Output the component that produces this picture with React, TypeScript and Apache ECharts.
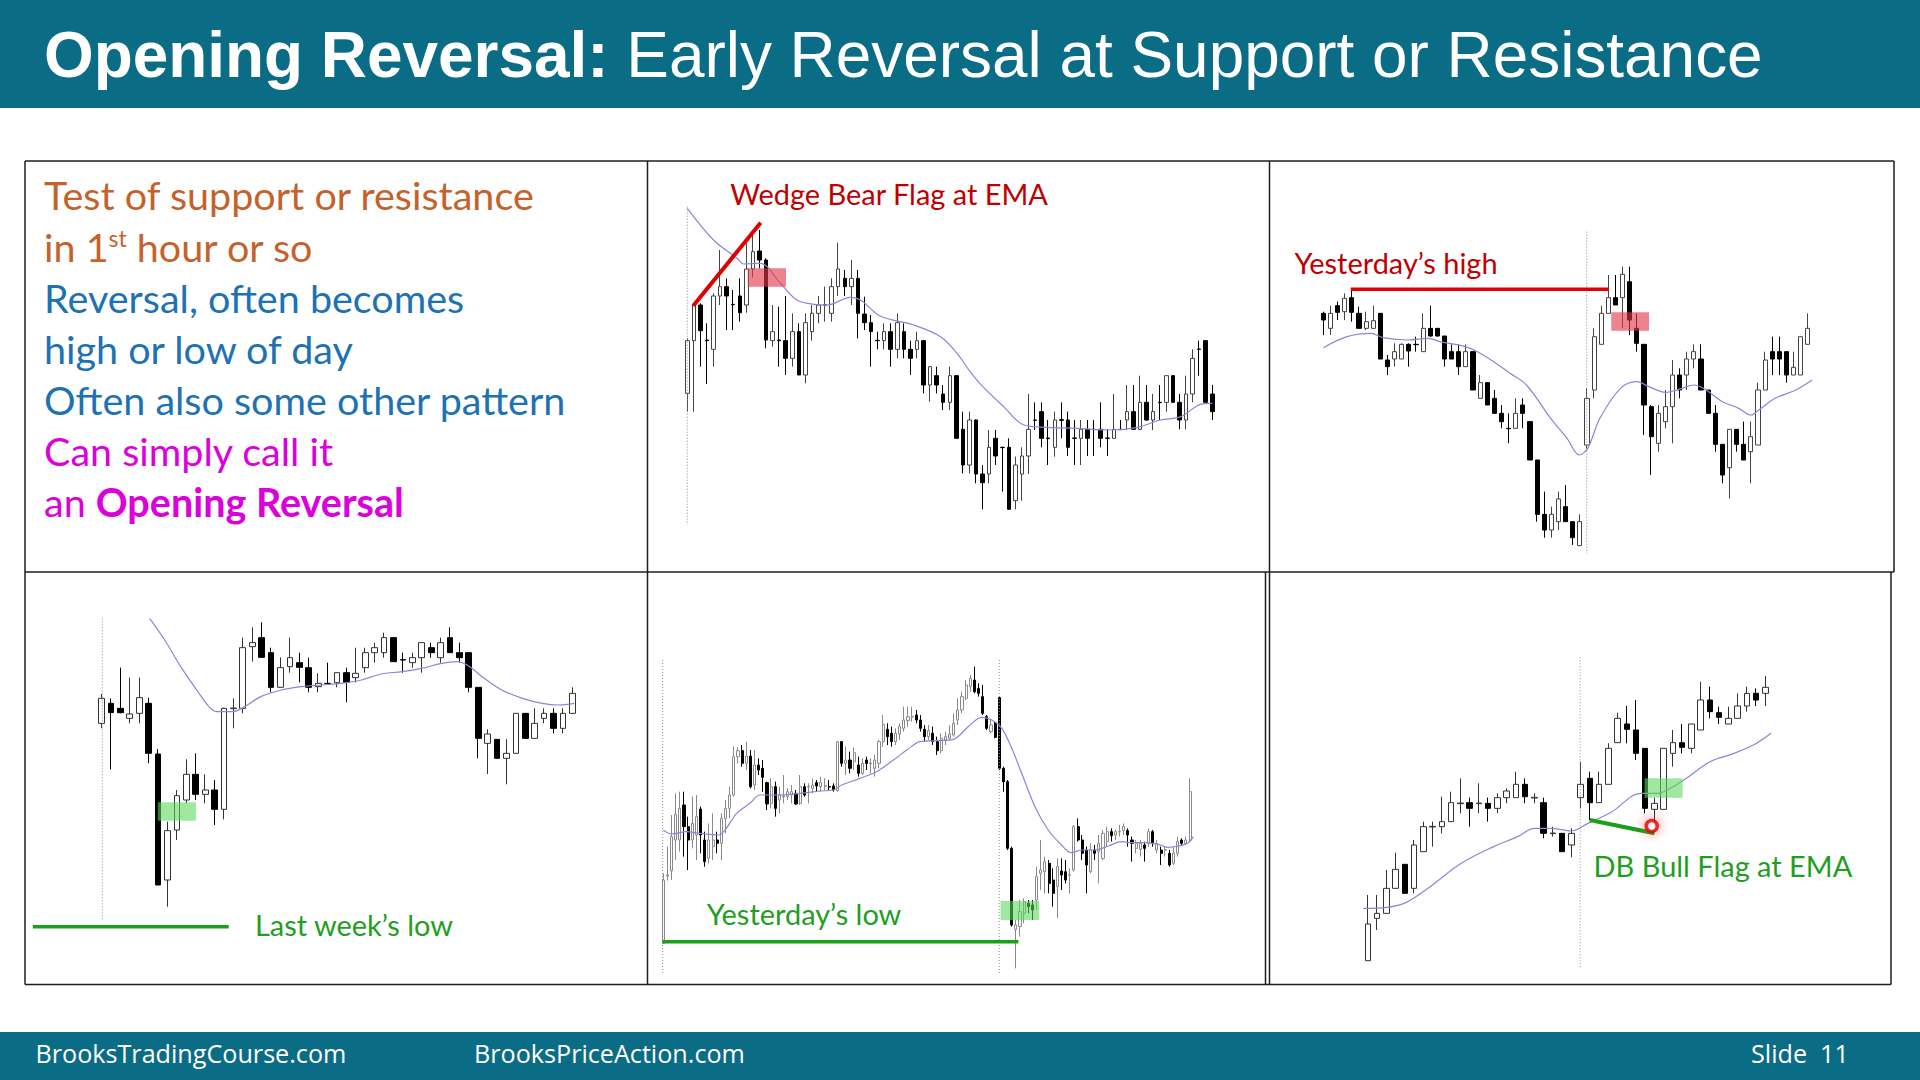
import React, { useEffect, useRef } from "react";
import * as echarts from "echarts";

// ================= DATA =================
// Candles: [barIndex, open, close, low, high]  (price units)

// Panel 1 — "Wedge Bear Flag at EMA"
const wedgeCandles: number[][] = [
  [0,390,548,335,555],[1,548,655,335,660],[2,655,578,470,660],[3,550,548,418,600],[4,522,682,470,690],
  [5,682,710,655,820],[6,710,682,580,735],[7,657,656,580,700],[8,682,632,605,735],[9,655,763,632,840],
  [10,763,815,738,870],[11,817,790,765,880],[12,790,550,525,795],[13,548,575,530,655],[14,550,548,470,650],
  [15,548,495,445,682],[16,495,575,470,630],[17,575,445,445,600],[18,445,602,420,630],[19,575,630,548,655],
  [20,630,655,600,682],[21,654,656,605,710],[22,630,710,605,735],[23,710,763,682,842],[24,735,710,682,760],
  [25,710,735,655,790],[26,735,630,555,760],[27,628,602,580,680],[28,602,575,470,625],[29,549,548,522,575],
  [30,548,575,522,600],[31,575,522,470,600],[32,522,602,495,630],[33,575,522,495,600],[34,522,495,445,548],
  [35,522,548,495,575],[36,548,415,390,550],[37,415,470,365,472],[38,443,415,390,470],[39,388,363,340,415],
  [40,363,443,340,470],[41,443,255,255,445],[42,282,175,150,335],[43,175,310,150,335],[44,310,148,120,312],
  [45,148,122,42,175],[46,148,228,120,280],[47,255,202,175,280],[48,228,227,95,230],[49,228,42,42,255],
  [50,68,175,42,200],[51,148,202,68,228],[52,202,282,148,388],[53,310,309,280,363],[54,335,255,228,363],
  [55,256,254,175,310],[56,228,310,200,335],[57,311,309,255,363],[58,310,228,202,335],[59,256,255,175,310],
  [60,255,282,175,310],[61,282,255,202,310],[62,282,281,202,310],[63,282,255,228,363],[64,256,255,202,282],
  [65,255,282,255,388],[66,282,281,280,310],[67,310,335,280,415],[68,335,282,282,415],[69,282,363,280,443],
  [70,363,310,308,415],[71,310,335,280,388],[72,363,362,310,415],[73,363,443,335,443],[74,443,363,363,443],
  [75,363,310,282,388],[76,310,388,282,443],[77,388,495,363,522],[78,523,522,443,548],[79,548,363,363,550],
  [80,388,335,310,415],
];
const wedgeEma: number[][] = [
  [0,945],[4,850],[7.6,795],[8.6,778],[11.1,780],[14.2,720],[16.7,670],[19.3,657],[21.3,655],[24.9,678],
  [26.4,670],[29.4,622],[34.5,595],[38.6,560],[41.1,510],[43.1,455],[44.7,417],[48.2,350],[51.3,295],
  [54.8,288],[59.4,285],[64.5,280],[68.6,288],[72.1,310],[75.2,320],[78.2,357],[80,360],
];
const wedgeTrendline: number[][] = [[0.91,653],[11.18,902]];
const wedgeZone: number[] = [9.2,710,15.04,765];
const wedgeDayOpen: number[][] = [[0,950],[0,-5]];

// Panel 2 — "Yesterday's high"
const yHighCandles: number[][] = [
  [0,825,805,760,830],[1,780,825,760,848],[2,848,828,805,860],[3,830,870,805,885],[4,872,828,800,897],
  [5,825,780,780,845],[6,780,800,775,830],[7,780,803,780,848],[8,825,688,688,825],[9,685,665,640,700],
  [10,688,710,665,735],[11,688,732,688,735],[12,732,712,665,735],[13,732,731,710,755],[14,710,780,710,825],
  [15,780,757,755,848],[16,780,757,755,780],[17,757,688,665,757],[18,710,688,688,732],[19,710,665,640,732],
  [20,665,710,665,732],[21,710,595,595,710],[22,570,617,570,640],[23,617,550,550,617],[24,570,525,525,595],
  [25,525,500,480,550],[26,480,479,435,525],[27,480,525,480,570],[28,550,525,480,570],[29,500,385,385,500],
  [30,385,222,200,385],[31,222,175,152,290],[32,175,222,152,245],[33,200,268,175,290],[34,245,200,200,310],
  [35,200,152,130,200],[36,128,200,128,222],[37,430,570,420,600],[38,595,755,570,780],[39,732,825,732,848],
  [40,825,872,825,940],[41,872,850,850,940],[42,872,942,780,965],[43,920,805,760,965],[44,780,735,710,825],
  [45,732,550,460,732],[46,545,455,340,550],[47,435,525,410,550],[48,500,545,480,595],[49,545,640,435,685],
  [50,640,595,570,660],[51,640,688,595,710],[52,688,710,660,732],[53,688,595,595,732],[54,595,525,525,595],
  [55,525,432,410,550],[56,432,340,315,432],[57,362,477,270,477],[58,477,432,410,477],[59,432,385,385,500],
  [60,410,455,315,500],[61,430,595,430,617],[62,595,685,595,710],[63,710,688,640,755],[64,710,688,640,755],
  [65,710,640,617,710],[66,640,663,640,710],[67,640,755,640,755],[68,732,780,732,825],
];
const yHighEma: number[][] = [
  [0,722],[3.3,755],[6.7,765],[8.4,752],[11.9,745],[14.7,750],[16.4,740],[19.9,725],[21.6,710],[23.9,680],
  [26.2,645],[28.5,610],[31.9,510],[34.2,450],[35.9,400],[37.1,420],[38.8,510],[41.7,600],[44,620],
  [45.7,605],[48,588],[50.3,600],[52,610],[53.7,595],[56,560],[58.3,540],[60,520],[61.1,535],[63.4,570],
  [66.3,595],[68.6,625],
];
const yHighLevel: number[][] = [[3.84,897],[40.06,897]];
const yHighZone: number[] = [40.4,773,45.7,828];
const yHighDayOpen: number[][] = [[36.95,1070],[36.95,105]];

// Panel 3 — "Last week's low"
const lwLowCandles: number[][] = [
  [0,740,815,725,828],[1,800,772,602,815],[2,785,772,770,907],[3,755,768,740,877],[4,770,817,740,877],
  [5,800,650,620,817],[6,648,255,255,663],[7,270,418,190,445],[8,420,523,390,540],[9,510,587,500,632],
  [10,587,527,510,650],[11,527,540,500,587],[12,540,482,435,570],[13,482,785,452,787],[14,784,786,725,815],
  [15,785,967,770,997],[16,970,982,925,1028],[17,997,938,938,1043],[18,952,848,833,967],[19,848,907,848,938],
  [20,910,937,892,997],[21,922,908,863,952],[22,907,848,833,937],[23,850,860,833,890],[24,860,859,855,922],
  [25,862,892,848,892],[26,892,863,803,907],[27,877,890,863,967],[28,907,952,892,967],[29,952,967,922,982],
  [30,952,997,937,1012],[31,997,925,925,997],[32,931,930,892,952],[33,922,937,907,952],[34,937,982,892,982],
  [35,967,952,937,982],[36,937,982,922,997],[37,997,952,952,1028],[38,952,937,922,982],[39,952,848,833,952],
  [40,848,695,635,848],[41,680,708,588,722],[42,692,635,635,692],[43,635,650,557,692],[44,650,770,650,770],
  [45,770,695,695,770],[46,695,740,695,785],[47,755,770,740,785],[48,770,725,710,785],[49,725,770,710,785],
  [50,770,830,770,848],
];
const lwLowEma: number[][] = [
  [5.1,1055],[6.7,990],[8.4,910],[10.1,840],[11.4,790],[12.2,775],[13.9,775],[15.2,790],[16.9,820],
  [19.1,840],[21.2,850],[23.3,855],[25.5,860],[27.6,870],[29.7,888],[31.9,895],[34,905],[36.1,920],
  [37.8,925],[39.1,910],[40.4,880],[42.5,840],[44.7,815],[46.8,800],[48.5,795],[50.2,800],
];
const lwLowLevel: number[][] = [[-7.3,130],[13.5,130]];
const lwLowZone: number[] = [5.97,448,10.03,503];
const lwLowDayOpen: number[][] = [[0.08,1055],[0.08,150]];

// Panel 4 — "Yesterday's low"
const ydLowCandles: number[][] = [
  [0,250,440,250,460],[1,452,455,438,540],[2,468,570,440,635],[3,560,637,500,700],[4,560,655,525,705],
  [5,665,600,510,705],[6,600,560,470,630],[7,560,610,535,690],[8,575,630,500,695],[9,653,575,520,660],
  [10,560,495,480,585],[11,505,560,490,610],[12,540,560,500,640],[13,560,550,520,585],[14,550,625,500,640],
  [15,625,655,580,680],[16,655,695,625,720],[17,695,810,690,840],[18,810,828,790,838],[19,828,790,780,845],
  [20,790,812,770,855],[21,812,720,715,830],[22,725,785,710,830],[23,785,770,755,805],[24,775,748,705,800],
  [25,732,668,650,735],[26,670,720,655,745],[27,720,655,630,735],[28,680,695,640,720],[29,689,691,670,755],
  [30,690,705,680,715],[31,695,705,670,725],[32,700,668,665,710],[33,670,720,665,755],[34,720,695,690,730],
  [35,719,721,670,730],[36,715,725,700,745],[37,732,722,705,740],[38,720,732,705,750],[39,721,723,710,745],
  [40,720,719,710,740],[41,722,710,705,730],[42,708,855,705,857],[43,855,790,780,857],[44,790,800,755,840],
  [45,800,775,760,825],[46,795,822,770,838],[47,785,760,750,810],[48,760,790,755,805],[49,800,790,770,810],
  [50,789,791,760,805],[51,775,800,750,815],[52,790,855,775,860],[53,855,907,840,935],[54,892,870,845,910],
  [55,880,855,840,900],[56,855,880,845,895],[57,878,900,860,910],[58,895,920,885,960],[59,918,930,900,960],
  [60,929,931,915,960],[61,935,920,910,950],[62,920,895,885,935],[63,892,870,855,905],[64,870,888,860,905],
  [65,880,855,845,900],[66,855,828,815,870],[67,828,865,820,880],[68,860,870,845,885],[69,865,878,860,905],
  [70,875,910,870,940],[71,920,950,905,985],[72,950,990,940,1005],[73,985,1025,980,1040],[74,1020,1045,1005,1055],
  [75,1040,1005,1000,1080],[76,1015,1000,990,1030],[77,990,940,935,1025],[78,930,895,890,935],[79,885,905,880,920],
  [80,910,868,865,915],[81,987,775,770,990],[82,775,735,705,780],[83,735,535,530,740],[84,535,305,300,540],
  [85,292,305,175,320],[86,300,345,270,380],[87,340,375,310,385],[88,370,360,340,380],[89,365,350,320,380],
  [90,380,450,350,480],[91,460,470,410,560],[92,465,495,400,510],[93,490,430,400,500],[94,440,400,360,475],
  [95,420,480,325,505],[96,467,455,410,505],[97,465,440,430,500],[98,454,456,400,475],[99,470,600,465,605],
  [100,600,560,555,625],[101,560,520,500,575],[102,530,485,400,540],[103,465,530,460,550],[104,530,520,500,545],
  [105,525,550,430,575],[106,505,580,500,590],[107,555,585,540,600],[108,585,573,555,595],[109,575,585,560,590],
  [110,584,586,570,605],[111,588,600,575,610],[112,588,575,540,595],[113,560,550,495,570],[114,535,550,520,560],
  [115,532,550,510,560],[116,545,535,495,555],[117,550,585,540,595],[118,585,550,540,590],[119,530,550,520,560],
  [120,530,520,485,540],[121,529,531,510,540],[122,520,485,480,530],[123,490,520,485,540],[124,520,555,510,570],
  [125,560,550,545,565],[126,550,560,545,570],[127,560,705,555,745],
];
const ydLowEma: number[][] = [
  [0,590],[2,578],[5.6,585],[8.8,580],[13.3,575],[14.9,590],[17.7,640],[20.9,670],[23.3,695],[27.3,695],
  [33,700],[37.8,707],[41,710],[43,725],[47.4,745],[51.4,765],[55.5,800],[58.7,830],[61.9,855],[65.9,858],
  [69.9,862],[71.5,875],[73.5,900],[76.8,928],[79.2,920],[81.6,895],[84,835],[86.4,760],[89.6,660],
  [92.8,590],[96,545],[98.4,522],[100.9,530],[104,530],[107.3,542],[110.5,555],[112.9,552],[116.1,552],
  [119.3,547],[121.6,538],[124.2,542],[126.6,552],[127.8,570],
];
const ydLowLevel: number[][] = [[-0.15,255],[85.6,255]];
const ydLowZone: number[] = [81.3,320,90.6,377];
const ydLowDayOpens: number[][][] = [[[-0.15,1100],[-0.15,160]],[[81,1100],[81,160]]];

// Panel 5 — "DB Bull Flag at EMA"
const dbCandles: number[][] = [
  [0,128,238,128,325],[1,255,270,220,325],[2,270,345,270,400],[3,345,402,345,452],[4,417,330,330,417],
  [5,345,475,330,490],[6,455,530,455,545],[7,529,531,470,545],[8,530,545,510,620],[9,545,602,545,635],
  [10,599,601,570,675],[11,602,585,530,617],[12,599,601,570,660],[13,600,585,545,617],[14,585,617,570,630],
  [15,617,637,600,645],[16,617,657,617,695],[17,657,620,600,675],[18,616,618,600,630],[19,602,510,495,617],
  [20,509,511,500,530],[21,510,455,455,510],[22,475,510,438,525],[23,617,657,585,725],[24,675,602,550,695],
  [25,602,657,602,695],[26,657,765,657,780],[27,782,855,782,872],[28,838,822,780,892],[29,820,750,730,910],
  [30,765,585,570,765],[31,582,600,530,617],[32,582,765,582,765],[33,750,782,710,820],[34,782,768,750,838],
  [35,765,838,750,838],[36,820,910,820,965],[37,910,875,855,950],[38,872,858,838,890],[39,838,855,838,890],
  [40,855,892,855,930],[41,892,930,875,950],[42,930,910,892,945],[43,930,948,892,982],
];
const dbEma: number[][] = [
  [-0.5,285],[2.1,288],[4.1,302],[6.5,345],[10.1,420],[13.6,470],[16.2,500],[18,525],[19.8,525],[22,517],
  [23.8,540],[26.4,575],[29.5,630],[31.3,630],[33,650],[34.8,682],[37,725],[39.6,750],[41.9,778],[43.6,810],
];
const dbLegs: number[][] = [[24,550],[31,510]];
const dbZone: number[] = [29.93,617,34.04,675];
const dbSignal: number[][] = [[30.7,532]];
const dbDayOpen: number[][] = [[22.96,1038],[22.96,105]];

// Slide texts
const titleBold = "Opening Reversal:";
const titleRest = "Early Reversal at Support or Resistance";
const footerLeft = "BrooksTradingCourse.com";
const footerMid = "BrooksPriceAction.com";
const footerRight = "Slide  11";
const labelWedge = "Wedge Bear Flag at EMA";
const labelYHigh = "Yesterday\u2019s high";
const labelLwLow = "Last week\u2019s low";
const labelYdLow = "Yesterday\u2019s low";
const labelDb = "DB Bull Flag at EMA";

// ================= STYLE / LAYOUT =================
const TEAL = "#0b6c85";
const ORANGE = "#c5622b";
const BLUE = "#1d72b4";
const MAGENTA = "#dc00dc";
const RED_TXT = "#c00000";
const RED_LINE = "#e00000";
const GREEN_TXT = "#1f9e1f";
const GREEN_LINE = "#18a018";
const PINK_ZONE = "rgba(226,55,75,0.62)";
const GREEN_ZONE = "rgba(90,215,90,0.58)";
const EMA_COLOR = "#8787dc";
const BORDER = "#1e1e1e";
const LATO = "Lato";

const PANELS = [
  { grid: { left: 647, top: 161, width: 622, height: 411 }, xr: [-6.141, 88.64], yr: [-146, 1087], bw: 4, edge: "#444" },
  { grid: { left: 1269, top: 161, width: 625, height: 411 }, xr: [-7.635, 80.084], yr: [49, 1282], bw: 4.6, edge: "#444" },
  { grid: { left: 25, top: 572, width: 622, height: 413 }, xr: [-8.135, 57.923], yr: [-45, 1194], bw: 6.2, edge: "#333" },
  { grid: { left: 647, top: 572, width: 619, height: 413 }, xr: [-3.93, 145.3], yr: [125, 1364], bw: 2.6, edge: "#8a8a8a" },
  { grid: { left: 1266, top: 572, width: 625, height: 413 }, xr: [-11.022, 56.582], yr: [55, 1294], bw: 6, edge: "#333" },
];

function textWidth(ctx: CanvasRenderingContext2D, text: string, font: string) {
  ctx.font = font;
  return ctx.measureText(text).width;
}

function buildOption() {
  const canvas = document.createElement("canvas");
  const ctx = canvas.getContext("2d") as CanvasRenderingContext2D;

  // fit font sizes to the widths seen in the reference
  const tW = textWidth(ctx, titleBold, 'bold 100px "Liberation Sans"') + textWidth(ctx, " " + titleRest, '100px "Liberation Sans"');
  const titleSize = Math.min(66, (100 * 1719) / tW);
  const noteSize =
    ((100 * 490) / textWidth(ctx, "Test of support or resistance", `100px ${LATO}`) +
      (100 * 524) / textWidth(ctx, "Often also some other pattern", `100px ${LATO}`)) / 2;
  const annTargets: [string, number][] = [[labelWedge, 317], [labelYHigh, 206], [labelLwLow, 199], [labelYdLow, 198], [labelDb, 252]];
  let annSum = 0;
  annTargets.forEach(([t, w]) => { annSum += (100 * w) / textWidth(ctx, t, `100px ${LATO}`); });
  const annSize = annSum / annTargets.length;
  const footSize = (100 * 311) / textWidth(ctx, footerLeft, '100px "Open Sans"');

  const midY = (baseline: number, size: number, k = 0.387) => baseline - k * size;

  const graphics: any[] = [
    { type: "rect", shape: { x: 0, y: 0, width: 1920, height: 108 }, style: { fill: TEAL } },
    { type: "rect", shape: { x: 0, y: 1032, width: 1920, height: 48 }, style: { fill: TEAL } },
    {
      type: "text", x: 44, y: midY(77, titleSize, 0.3465),
      style: {
        text: `{b|${titleBold}} ${titleRest}`,
        fontSize: titleSize, fontFamily: '"Liberation Sans", Arial', fill: "#fff",
        align: "left", verticalAlign: "middle", textAlign: "left", textVerticalAlign: "middle",
        rich: { b: { fontSize: titleSize, fontFamily: '"Liberation Sans", Arial', fontWeight: "bold", fill: "#fff" } },
      },
    },
  ];

  // panel borders
  const seg = (x1: number, y1: number, x2: number, y2: number) => ({
    type: "line", shape: { x1, y1, x2, y2 }, style: { stroke: BORDER, lineWidth: 1.5 },
  });
  graphics.push(
    seg(25, 161, 1894, 161), seg(25, 572, 1894, 572), seg(25, 984.5, 1891, 984.5),
    seg(25, 161, 25, 984.5), seg(647.5, 161, 647.5, 984.5),
    seg(1269.5, 161, 1269.5, 984.5), seg(1265.5, 572, 1265.5, 984.5),
    seg(1894, 161, 1894, 572), seg(1891, 572, 1891, 984.5)
  );

  // note text (left panel)
  const noteBaselines = [210, 261.3, 312.4, 363.5, 414.6, 465.7, 516.8];
  const noteLines: { text: string; color: string; rich?: any }[] = [
    { text: "Test of support or resistance", color: ORANGE },
    { text: "in 1{sup|st} hour or so", color: ORANGE, rich: { sup: { fontSize: noteSize * 0.58, fontFamily: LATO, fill: ORANGE, verticalAlign: "top" } } },
    { text: "Reversal, often becomes", color: BLUE },
    { text: "high or low of day", color: BLUE },
    { text: "Often also some other pattern", color: BLUE },
    { text: "Can simply call it", color: MAGENTA },
    { text: "an {b|Opening Reversal}", color: MAGENTA, rich: { b: { fontSize: noteSize, fontFamily: LATO, fontWeight: "bold", fill: MAGENTA } } },
  ];
  noteLines.forEach((ln, i) => {
    graphics.push({
      type: "text", x: 44, y: midY(noteBaselines[i], noteSize),
      style: {
        text: ln.text, fontSize: noteSize, fontFamily: LATO, fill: ln.color,
        align: "left", verticalAlign: "middle", textAlign: "left", textVerticalAlign: "middle",
        rich: ln.rich || {},
      },
    });
  });

  // chart labels
  const labels: [string, number, number, string][] = [
    [labelWedge, 730.2, 205, RED_TXT],
    [labelYHigh, 1294.4, 274, RED_TXT],
    [labelLwLow, 255, 935.7, GREEN_TXT],
    [labelYdLow, 706.7, 925, GREEN_TXT],
    [labelDb, 1593.6, 876.7, GREEN_TXT],
  ];
  labels.forEach(([t, x, b, c]) => {
    graphics.push({
      type: "text", x, y: midY(b, annSize),
      style: { text: t, fontSize: annSize, fontFamily: LATO, fill: c, align: "left", verticalAlign: "middle", textAlign: "left", textVerticalAlign: "middle" },
    });
  });

  // footer
  ([[footerLeft, 35.5], [footerMid, 474], [footerRight, 1751]] as [string, number][]).forEach(([t, x]) => {
    graphics.push({
      type: "text", x, y: midY(1063, footSize, 0.388),
      style: { text: t, fontSize: footSize, fontFamily: '"Open Sans"', fill: "#fff", align: "left", verticalAlign: "middle", textAlign: "left", textVerticalAlign: "middle" },
    });
  });

  const grids = PANELS.map((p) => ({ ...p.grid, containLabel: false }));
  const xAxes = PANELS.map((p, k) => ({ type: "value", gridIndex: k, min: p.xr[0], max: p.xr[1], show: false }));
  const yAxes = PANELS.map((p, k) => ({ type: "value", gridIndex: k, min: p.yr[0], max: p.yr[1], show: false }));

  const series: any[] = [];
  const candleSeries = (k: number, data: number[][]) => ({
    type: "candlestick", xAxisIndex: k, yAxisIndex: k, data, encode: { x: 0, y: [1, 2, 3, 4] },
    barWidth: PANELS[k].bw, z: 3, silent: true,
    itemStyle: { color: "#ffffff", color0: "#000000", borderColor: PANELS[k].edge, borderColor0: "#000000", borderWidth: 1 },
  });
  const emaSeries = (k: number, data: number[][]) => ({
    type: "line", xAxisIndex: k, yAxisIndex: k, data, smooth: 0.35, showSymbol: false, symbol: "none",
    lineStyle: { color: EMA_COLOR, width: 1.2 }, z: 4, silent: true,
  });
  const zoneSeries = (k: number, zone: number[], color: string) => ({
    type: "custom", xAxisIndex: k, yAxisIndex: k, data: [zone], z: 6, silent: true,
    encode: { x: [0, 2], y: [1, 3] },
    renderItem: (_params: any, api: any) => {
      const a = api.coord([api.value(0), api.value(1)]);
      const b = api.coord([api.value(2), api.value(3)]);
      return {
        type: "rect",
        shape: { x: Math.min(a[0], b[0]), y: Math.min(a[1], b[1]), width: Math.abs(b[0] - a[0]), height: Math.abs(b[1] - a[1]) },
        style: { fill: color },
      };
    },
  });
  const segSeries = (k: number, data: number[][], color: string, width: number, type: any = "solid", z = 7) => ({
    type: "line", xAxisIndex: k, yAxisIndex: k, data, symbol: "none", showSymbol: false,
    lineStyle: { color, width, type }, z, silent: true,
  });

  // Panel 1
  series.push(candleSeries(0, wedgeCandles), emaSeries(0, wedgeEma), zoneSeries(0, wedgeZone, PINK_ZONE),
    segSeries(0, wedgeTrendline, RED_LINE, 4), segSeries(0, wedgeDayOpen, "#8c8c8c", 1, [1, 2], 5));
  // Panel 2
  series.push(candleSeries(1, yHighCandles), emaSeries(1, yHighEma), zoneSeries(1, yHighZone, PINK_ZONE),
    segSeries(1, yHighLevel, RED_LINE, 3.5), segSeries(1, yHighDayOpen, "#8c8c8c", 1, [1, 2], 5));
  // Panel 3
  series.push(candleSeries(2, lwLowCandles), emaSeries(2, lwLowEma), zoneSeries(2, lwLowZone, GREEN_ZONE),
    segSeries(2, lwLowLevel, GREEN_LINE, 3.5), segSeries(2, lwLowDayOpen, "#8c8c8c", 1, [1, 2], 5));
  // Panel 4
  series.push(candleSeries(3, ydLowCandles), emaSeries(3, ydLowEma), zoneSeries(3, ydLowZone, GREEN_ZONE),
    segSeries(3, ydLowLevel, GREEN_LINE, 3.5));
  ydLowDayOpens.forEach((d) => series.push(segSeries(3, d, "#8c8c8c", 1, [1, 2], 5)));
  // Panel 5
  series.push(candleSeries(4, dbCandles), emaSeries(4, dbEma), zoneSeries(4, dbZone, GREEN_ZONE),
    segSeries(4, dbLegs, GREEN_LINE, 4), segSeries(4, dbDayOpen, "#8c8c8c", 1, [1, 2], 5),
    {
      type: "scatter", xAxisIndex: 4, yAxisIndex: 4, data: dbSignal, symbol: "circle", symbolSize: 11, z: 8, silent: true,
      itemStyle: { color: "#ffffff", borderColor: "#e00000", borderWidth: 3.5, shadowBlur: 12, shadowColor: "rgba(255,40,40,0.75)" },
    });

  return {
    animation: false,
    backgroundColor: "#ffffff",
    grid: grids,
    xAxis: xAxes,
    yAxis: yAxes,
    series,
    graphic: { elements: graphics },
  };
}

export default function App() {
  const ref = useRef<HTMLDivElement>(null);
  useEffect(() => {
    if (!ref.current) return;
    const chart = echarts.init(ref.current, undefined, { renderer: "svg", width: 1920, height: 1080 });
    chart.setOption(buildOption() as any);
    return () => chart.dispose();
  }, []);
  return (
    <div
      ref={ref}
      style={{ position: "fixed", left: 0, top: 0, width: 1920, height: 1080, background: "#ffffff" }}
    />
  );
}
